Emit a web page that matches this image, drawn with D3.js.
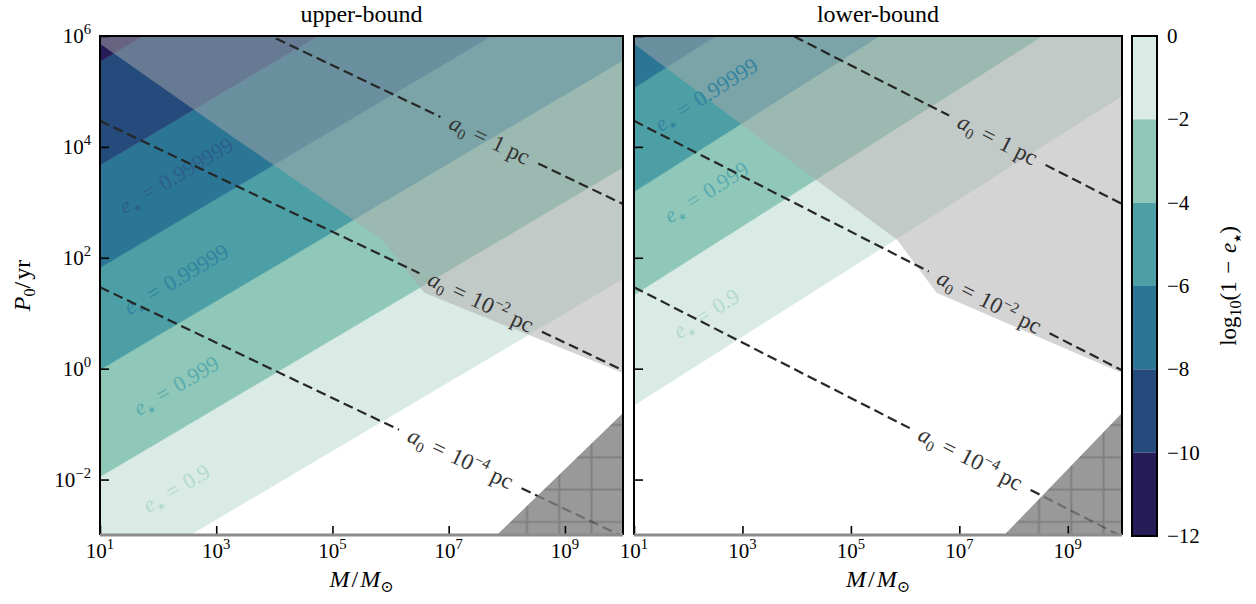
<!DOCTYPE html>
<html lang="en">
<head>
<meta charset="UTF-8">
<title>Eccentricity bounds</title>
<script src="https://cdnjs.cloudflare.com/ajax/libs/d3/7.8.5/d3.min.js"></script>
<style>
  body { margin: 0; background: #fff; }
  svg text { font-family: 'Liberation Serif', 'DejaVu Serif', serif; fill: #000; }
  svg text tspan.star { font-family: 'DejaVu Sans', sans-serif; }
</style>
</head>
<body>
<div id="chart"></div>
<script>
// all values are log10
const panelTitles = ["upper-bound", "lower-bound"];
const contourLevels = [0, -2, -4, -6, -8, -10];
const bandColors = ["#d9ebe4", "#8fc8b8", "#4b9fa5", "#2a7694", "#254a7c", "#261c57"];
// log10 P0 of each contour at M = 10 and at M = 1e10
const upperContourAtM1 = [-3.96, -1.95, -0.02, 1.82, 3.67, 5.54];
const upperContourAtM10 = [1.62, 3.63, 5.56, 7.40, 9.25, 11.12];
const lowerContourAtM1 = [-0.66, 1.33, 3.19, 5.06, 6.91, 8.76];
const lowerContourAtM10 = [4.92, 6.91, 8.77, 10.64, 12.49, 14.34];

// e* labels
const upperELabels = ["0.999999", "0.99999", "0.999", "0.9"];
const upperELabelM = [2.31, 2.31, 2.31, 2.31];
const upperELabelP = [3.49, 1.62, -0.30, -2.15];
const upperELabelColors = ["#2d5e8e", "#3484a0", "#5aabaf", "#b5dacd"];
const lowerELabels = ["0.99999", "0.999", "0.9"];
const lowerELabelM = [2.33, 2.33, 2.33];
const lowerELabelP = [4.95, 3.19, 1.0];
const lowerELabelColors = ["#3484a0", "#5aabaf", "#b5dacd"];

// grey (excluded) region edge
const greyEdgeM = [1.0, 3.3, 5.85, 6.58, 10.0];
const greyEdgeP = [5.86, 4.17, 2.33, 1.37, -0.08];

// hatched triangle
const triM = [7.83, 10, 10];
const triP = [-3, -0.8, -3];

// a0 separation lines
const a0Exp = ["0", "−2", "−4"];
const a0AtM1 = [7.47, 4.47, 1.47];
const a0AtM10 = [2.97, -0.03, -3.03];
const a0LabelM = [7.7, 7.55, 7.2];

const xTicks = [1, 3, 5, 7, 9];
const yTicks = [-2, 0, 2, 4, 6];
const cbTicks = [0, -2, -4, -6, -8, -10, -12];

const W = 1256, H = 604;
const plotTop = 36, plotH = 499;
const P = v => Math.pow(10, v);
const SP = "\u2004"; // a bit wider than a normal space, like TeX math spacing

const svg = d3.select("#chart").append("svg").attr("width", W).attr("height", H);
const defs = svg.append("defs");

const panels = [
  { title: panelTitles[0], x0: 100, w: 523, lo: upperContourAtM1, hi: upperContourAtM10,
    eText: upperELabels, eM: upperELabelM, eP: upperELabelP, eCol: upperELabelColors, hatchX: 527 },
  { title: panelTitles[1], x0: 634, w: 488, lo: lowerContourAtM1, hi: lowerContourAtM10,
    eText: lowerELabels, eM: lowerELabelM, eP: lowerELabelP, eCol: lowerELabelColors, hatchX: 1039 }
];

function supText(sel, base, exp, size) {
  sel.append("tspan").text(base);
  sel.append("tspan").attr("dy", -size * 0.42).attr("font-size", size * 0.7).text(exp);
}

panels.forEach((p, i) => {
  const g = svg.append("g").attr("transform", `translate(${p.x0},${plotTop})`);
  const x = d3.scaleLog().domain([1e1, 1e10]).range([0, p.w]);
  const y = d3.scaleLog().domain([1e-3, 1e6]).range([plotH, 0]);
  const line = d3.line().x(d => x(P(d[0]))).y(d => y(P(d[1])));

  defs.append("clipPath").attr("id", "clip" + i)
    .append("rect").attr("width", p.w).attr("height", plotH);

  const body = g.append("g").attr("clip-path", `url(#clip${i})`);

  // filled bands of log10(1 - e*)
  contourLevels.forEach((lev, k) => {
    const lower = [[1, p.lo[k]], [10, p.hi[k]]];
    const upper = k + 1 < contourLevels.length
      ? [[10, p.hi[k + 1]], [1, p.lo[k + 1]]]
      : [[10, 20], [1, 20]];
    body.append("path")
      .attr("d", line(lower.concat(upper)) + "Z")
      .attr("fill", bandColors[k])
      .attr("stroke", bandColors[k]).attr("stroke-width", 0.5);
  });

  // grey overlay
  const grey = greyEdgeM.map((m, j) => [m, greyEdgeP[j]]).concat([[10, 20], [1, 20]]);
  body.append("path").attr("d", line(grey) + "Z")
    .attr("fill", "#a9a9a9").attr("fill-opacity", 0.5);

  // e* labels
  const ang = Math.atan2(y(P(p.hi[0])) - y(P(p.lo[0])), x(1e10) - x(1e1)) * 180 / Math.PI;
  p.eText.forEach((t, k) => {
    const tx = body.append("text")
      .attr("transform", `translate(${x(P(p.eM[k]))},${y(P(p.eP[k]))}) rotate(${ang})`)
      .attr("text-anchor", "middle").attr("dy", "0.35em")
      .attr("font-size", 22).style("fill", p.eCol[k]);
    tx.append("tspan").attr("font-style", "italic").text("e");
    tx.append("tspan").attr("class", "star").attr("font-size", 10).attr("dy", 4).text("★");
    tx.append("tspan").attr("dy", -4).text(SP + "=" + SP + t);
  });

  // a0 dashed lines with inline labels
  a0Exp.forEach((e, k) => {
    const p0 = [x(1e1), y(P(a0AtM1[k]))];
    const p1 = [x(1e10), y(P(a0AtM10[k]))];
    const len = Math.hypot(p1[0] - p0[0], p1[1] - p0[1]);
    const u = [(p1[0] - p0[0]) / len, (p1[1] - p0[1]) / len];
    const cx = x(P(a0LabelM[k]));
    const cy = p0[1] + (cx - p0[0]) / (p1[0] - p0[0]) * (p1[1] - p0[1]);
    const a = Math.atan2(u[1], u[0]) * 180 / Math.PI;

    const tx = body.append("text")
      .attr("transform", `translate(${cx},${cy}) rotate(${a})`)
      .attr("text-anchor", "middle").attr("dy", "0.3em")
      .attr("font-size", 23).style("fill", "#333");
    tx.append("tspan").attr("font-style", "italic").text("a");
    tx.append("tspan").attr("font-size", 15).attr("dy", 5).text("0");
    if (e === "0") {
      tx.append("tspan").attr("dy", -5).text(SP + "=" + SP + "1 pc");
    } else {
      tx.append("tspan").attr("dy", -5).text(SP + "=" + SP + "10");
      tx.append("tspan").attr("font-size", 15).attr("dy", -9).text(e);
      tx.append("tspan").attr("dy", 9).text(" pc");
    }
    const gap = tx.node().getComputedTextLength() / 2 + 11;
    const segs = [
      [p0, [cx - u[0] * gap, cy - u[1] * gap]],
      [[cx + u[0] * gap, cy + u[1] * gap], p1]
    ];
    segs.forEach(s => {
      body.append("path")
        .attr("d", d3.line()(s))
        .attr("fill", "none").attr("stroke", "#262626")
        .attr("stroke-width", 2.2).attr("stroke-dasharray", "10,5");
    });
  });

  // spines (top, left, right)
  g.append("path")
    .attr("d", `M0,${plotH}V0H${p.w}V${plotH}`)
    .attr("fill", "none").attr("stroke", "#000").attr("stroke-width", 2);

  // inward ticks
  const styleAxis = a => {
    a.select(".domain").remove();
    a.selectAll(".tick line").attr("stroke", "#000").attr("stroke-width", 1.6);
  };
  g.append("g").attr("transform", `translate(0,${plotH})`)
    .call(d3.axisBottom(x).tickValues(xTicks.map(P)).tickSize(-9).tickFormat(""))
    .call(styleAxis);
  g.append("g")
    .call(d3.axisLeft(y).tickValues(yTicks.map(P)).tickSize(-9).tickFormat(""))
    .call(styleAxis);

  // hatched triangle
  const pat = defs.append("pattern").attr("id", "hatch" + i)
    .attr("patternUnits", "userSpaceOnUse")
    .attr("width", 32.3).attr("height", 32.3)
    .attr("x", p.hatchX - p.x0 - 16.15).attr("y", 425 - plotTop - 16.15);
  pat.append("rect").attr("width", 32.3).attr("height", 32.3).attr("fill", "#808080");
  pat.append("path").attr("d", "M16.15,0V32.3M0,16.15H32.3")
    .attr("stroke", "#606060").attr("stroke-width", 2);
  body.append("path")
    .attr("d", line(triM.map((m, j) => [m, triP[j]])) + "Z")
    .attr("fill", `url(#hatch${i})`).attr("opacity", 0.8);

  // bottom spine
  g.append("line").attr("x1", 0).attr("x2", p.w).attr("y1", plotH).attr("y2", plotH)
    .attr("stroke", "#8c8c8c").attr("stroke-width", 3);

  // x tick labels
  xTicks.forEach(t => {
    const tx = g.append("text").attr("x", x(P(t))).attr("y", plotH + 23)
      .attr("text-anchor", "middle").attr("font-size", 21);
    supText(tx, "10", String(t), 21);
  });
  // y tick labels (left panel only)
  if (i === 0) {
    yTicks.forEach(t => {
      const tx = g.append("text").attr("x", -9).attr("y", y(P(t)) + 7)
        .attr("text-anchor", "end").attr("font-size", 21);
      supText(tx, "10", t < 0 ? "−" + (-t) : String(t), 21);
    });
    const yl = svg.append("text")
      .attr("transform", `translate(30,${plotTop + plotH / 2}) rotate(-90)`)
      .attr("text-anchor", "middle").attr("font-size", 24);
    yl.append("tspan").attr("font-style", "italic").text("P");
    yl.append("tspan").attr("font-size", 16).attr("dy", 5).text("0");
    yl.append("tspan").attr("dy", -5).text("/\u200Ayr");
  }

  // title
  svg.append("text").attr("x", p.x0 + p.w / 2).attr("y", 22)
    .attr("text-anchor", "middle").attr("font-size", 24).text(p.title);

  // x label
  const xl = svg.append("text").attr("x", p.x0 + p.w / 2).attr("y", 587)
    .attr("text-anchor", "middle").attr("font-size", 24);
  xl.append("tspan").attr("font-style", "italic").text("M");
  xl.append("tspan").text("\u200A/\u200A");
  xl.append("tspan").attr("font-style", "italic").text("M");
  xl.append("tspan").attr("font-size", 16).attr("dy", 5).text("⊙");
});

// colorbar
const cbX = 1132, cbW = 25;
const cbY = d3.scaleLinear().domain([-12, 0]).range([plotTop + 500, plotTop]);
const cb = svg.append("g");
contourLevels.forEach((lev, k) => {
  cb.append("rect").attr("x", cbX).attr("width", cbW)
    .attr("y", cbY(lev)).attr("height", cbY(lev - 2) - cbY(lev))
    .attr("fill", bandColors[k]);
});
cb.append("rect").attr("x", cbX).attr("y", cbY(0)).attr("width", cbW)
  .attr("height", cbY(-12) - cbY(0))
  .attr("fill", "none").attr("stroke", "#000").attr("stroke-width", 2);
cbTicks.forEach(t => {
  cb.append("text").attr("x", cbX + cbW + 10).attr("y", cbY(t) + 7)
    .attr("font-size", 21).text(t === 0 ? "0" : "−" + (-t));
});
const cl = svg.append("text")
  .attr("transform", `translate(1236,${plotTop + 250}) rotate(-90)`)
  .attr("text-anchor", "middle").attr("font-size", 23);
cl.append("tspan").text("log");
cl.append("tspan").attr("font-size", 16).attr("dy", 5).text("10");
cl.append("tspan").attr("dy", -5).text("(1" + SP + "−" + SP);
cl.append("tspan").attr("font-style", "italic").text("e");
cl.append("tspan").attr("class", "star").attr("font-size", 10).attr("dy", 5).text("★");
cl.append("tspan").attr("dy", -5).text(")");
</script>
</body>
</html>
